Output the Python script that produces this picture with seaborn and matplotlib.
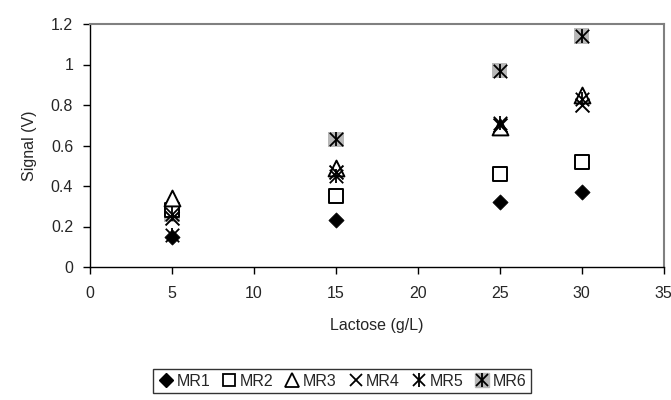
import matplotlib
matplotlib.use("Agg")
import matplotlib.pyplot as plt
from matplotlib.legend_handler import HandlerTuple
from matplotlib.lines import Line2D
import seaborn as sns
import pandas as pd

lactose = [5, 15, 25, 30]
mr1 = [0.15, 0.23, 0.32, 0.37]
mr2 = [0.28, 0.35, 0.46, 0.52]
mr3 = [0.34, 0.49, 0.69, 0.85]
mr4 = [0.24, 0.47, 0.70, 0.80]
mr5 = [0.16, 0.45, 0.71, 0.83]
mr6 = [0.26, 0.63, 0.97, 1.14]
series_names = ["MR1", "MR2", "MR3", "MR4", "MR5", "MR6"]
series_vals = [mr1, mr2, mr3, mr4, mr5, mr6]
x_ticks = [0, 5, 10, 15, 20, 25, 30, 35]
y_ticks = [0, 0.2, 0.4, 0.6, 0.8, 1.0, 1.2]
y_tick_labels = ["0", "0.2", "0.4", "0.6", "0.8", "1", "1.2"]

sns.set_style("white")
plt.rcParams['font.family'] = ['Liberation Sans', 'DejaVu Sans']

FS = 11.5
fig = plt.figure(figsize=(6.71, 4.0), dpi=100)
ax = fig.add_axes([0.134, 0.3325, 0.855, 0.6075])

def star(df, size=110):
    sns.scatterplot(data=df, x="x", y="y", marker="x", s=size * 0.85, color="black",
                    linewidth=1.3, ax=ax, legend=False, zorder=5)
    sns.scatterplot(data=df, x="x", y="y", marker="|", s=size, color="black",
                    linewidth=1.3, ax=ax, legend=False, zorder=5)

handles = []
for name, vals in zip(series_names, series_vals):
    df = pd.DataFrame({"x": lactose, "y": vals})
    if name == "MR1":
        sns.scatterplot(data=df, x="x", y="y", marker="D", s=60, color="black",
                        edgecolor="black", linewidth=0.5, ax=ax, legend=False, zorder=4)
        h = Line2D([], [], marker="D", markersize=7, color="black", linestyle="none")
    elif name == "MR2":
        sns.scatterplot(data=df, x="x", y="y", marker="s", s=115, facecolor="white",
                        edgecolor="black", linewidth=1.4, ax=ax, legend=False, zorder=4)
        h = Line2D([], [], marker="s", markersize=9, mfc="white", mec="black", mew=1.3, linestyle="none")
    elif name == "MR3":
        sns.scatterplot(data=df, x="x", y="y", marker="^", s=130, facecolor="white",
                        edgecolor="black", linewidth=1.4, ax=ax, legend=False, zorder=4)
        h = Line2D([], [], marker="^", markersize=10, mfc="white", mec="black", mew=1.3, linestyle="none")
    elif name == "MR4":
        sns.scatterplot(data=df, x="x", y="y", marker="x", s=100, color="black",
                        linewidth=1.4, ax=ax, legend=False, zorder=4)
        h = Line2D([], [], marker="x", markersize=9, color="black", mew=1.3, linestyle="none")
    elif name == "MR5":
        star(df)
        h = (Line2D([], [], marker="x", markersize=9, color="black", mew=1.3, linestyle="none"),
             Line2D([], [], marker="|", markersize=10, color="black", mew=1.3, linestyle="none"))
    else:
        sns.scatterplot(data=df, x="x", y="y", marker="s", s=125, color="#b8b8b8",
                        edgecolor="none", ax=ax, legend=False, zorder=3)
        star(df)
        h = (Line2D([], [], marker="s", markersize=10, color="#b8b8b8", linestyle="none"),
             Line2D([], [], marker="x", markersize=9, color="black", mew=1.3, linestyle="none"),
             Line2D([], [], marker="|", markersize=10, color="black", mew=1.3, linestyle="none"))
    handles.append(h)

ax.set_xlim(0, 35)
ax.set_ylim(0, 1.2)
ax.set_xticks(x_ticks)
ax.set_yticks(y_ticks)
ax.set_yticklabels(y_tick_labels)
ax.tick_params(axis="x", direction="out", length=5, width=1, color="black",
               labelsize=FS, bottom=True, pad=9)
ax.tick_params(axis="y", direction="out", length=5, width=1, color="black",
               labelsize=FS, left=True, pad=7)
ax.set_xlabel("Lactose (g/L)", fontsize=FS, labelpad=12)
ax.set_ylabel("Signal (V)", fontsize=FS, labelpad=10)
for sp in ["left", "bottom"]:
    ax.spines[sp].set_color("black")
    ax.spines[sp].set_linewidth(1)
for sp in ["top", "right"]:
    ax.spines[sp].set_color("#808080")
    ax.spines[sp].set_linewidth(1.5)

class Overlay(HandlerTuple):
    pass

leg = fig.legend(handles, series_names, loc="center", bbox_to_anchor=(0.51, 0.047),
                 ncol=6, frameon=True, fontsize=FS, handlelength=1.0, handletextpad=0.15,
                 columnspacing=0.7, borderpad=0.3, fancybox=False,
                 handler_map={tuple: HandlerTuple(ndivide=1, pad=0)})
leg.get_frame().set_edgecolor("black")
leg.get_frame().set_linewidth(1)

fig.savefig("out.png", dpi=100)
